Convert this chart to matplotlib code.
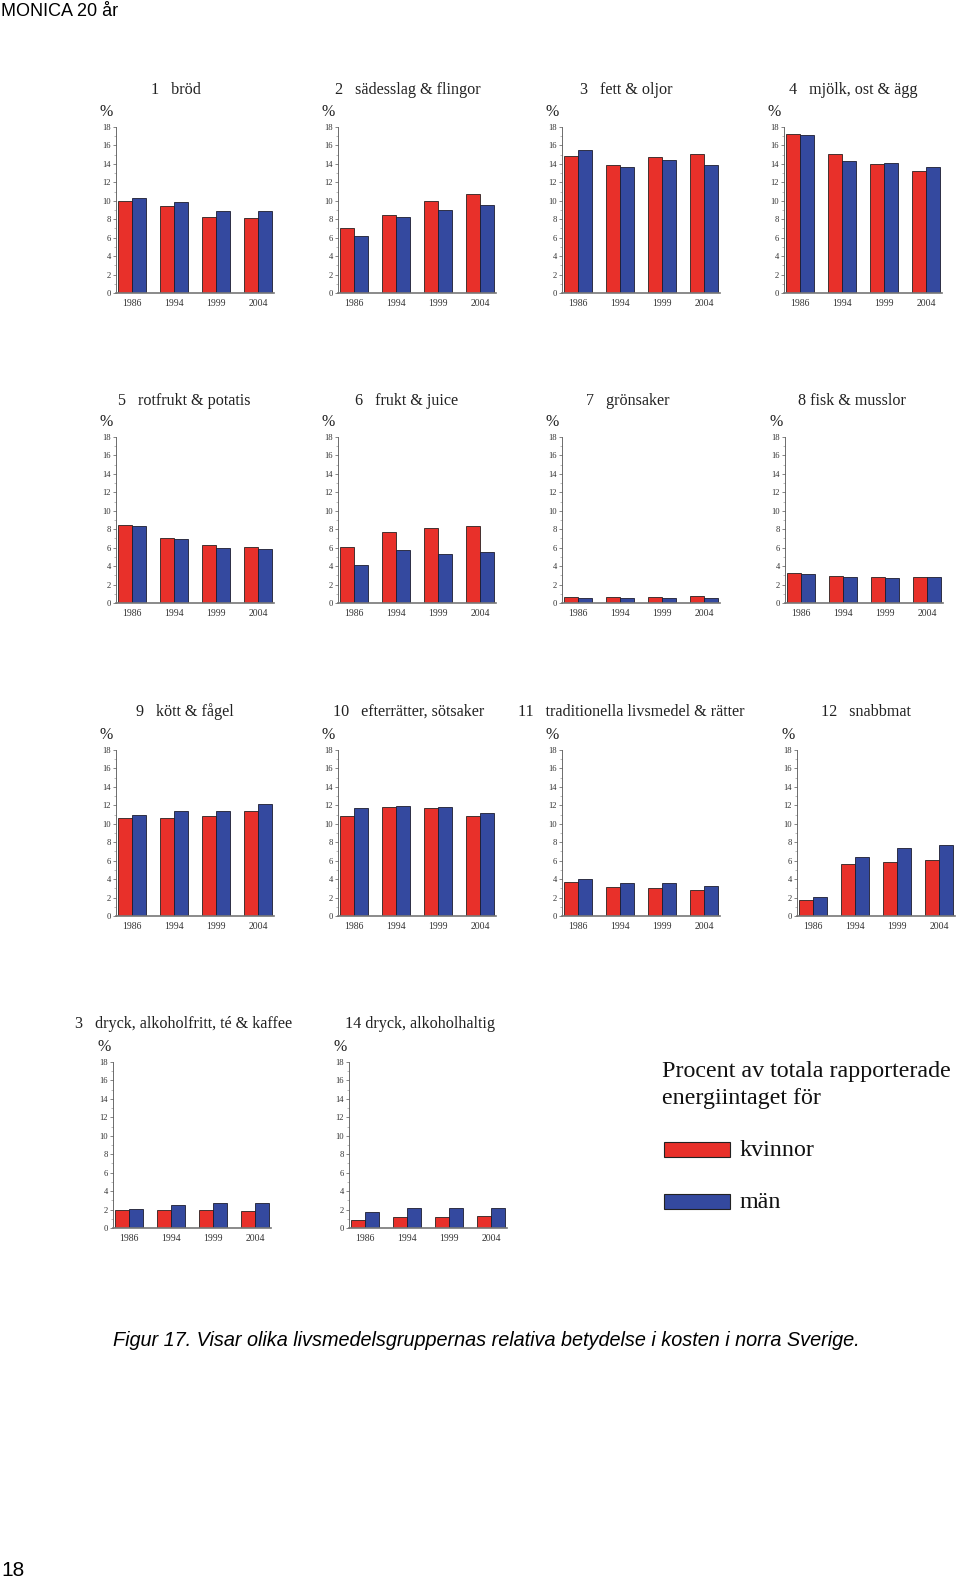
import matplotlib
matplotlib.use("Agg")
import matplotlib.pyplot as plt
from matplotlib.patches import Rectangle
import numpy as np

years = ["1986", "1994", "1999", "2004"]
titles = [
    "1   bröd", "2   sädesslag & flingor", "3   fett & oljor", "4   mjölk, ost & ägg",
    "5   rotfrukt & potatis", "6   frukt & juice", "7   grönsaker", "8 fisk & musslor",
    "9   kött & fågel", "10   efterrätter, sötsaker", "11   traditionella livsmedel & rätter", "12   snabbmat",
    "3   dryck, alkoholfritt, té & kaffee", "14 dryck, alkoholhaltig",
]
kvinnor = [
    [10.0, 9.4, 8.2, 8.1],
    [7.0, 8.5, 10.0, 10.75],
    [14.9, 13.85, 14.8, 15.1],
    [17.2, 15.1, 14.0, 13.2],
    [8.45, 7.1, 6.25, 6.05],
    [6.05, 7.7, 8.1, 8.3],
    [0.65, 0.65, 0.7, 0.75],
    [3.25, 2.9, 2.85, 2.85],
    [10.6, 10.65, 10.8, 11.4],
    [10.8, 11.85, 11.7, 10.8],
    [3.65, 3.1, 3.05, 2.85],
    [1.7, 5.6, 5.85, 6.1],
    [2.0, 1.9, 2.0, 1.85],
    [0.9, 1.2, 1.2, 1.3],
]
man = [
    [10.25, 9.85, 8.9, 8.9],
    [6.15, 8.2, 9.05, 9.55],
    [15.5, 13.65, 14.45, 13.85],
    [17.1, 14.3, 14.1, 13.7],
    [8.35, 6.9, 5.95, 5.85],
    [4.15, 5.75, 5.35, 5.5],
    [0.5, 0.5, 0.5, 0.5],
    [3.1, 2.8, 2.7, 2.8],
    [10.9, 11.4, 11.35, 12.1],
    [11.7, 11.9, 11.8, 11.2],
    [4.05, 3.55, 3.55, 3.2],
    [2.1, 6.45, 7.35, 7.7],
    [2.05, 2.5, 2.7, 2.7],
    [1.7, 2.2, 2.2, 2.2],
]
legend_title = "Procent av totala rapporterade\nenergiintaget för"
series_names = ["kvinnor", "män"]
header = "MONICA 20 år"
caption = "Figur 17. Visar olika livsmedelsgruppernas relativa betydelse i kosten i norra Sverige."
page_no = "18"

RED = "#e8302a"
BLUE = "#34499f"
W, H = 960, 1580
fig = plt.figure(figsize=(W / 100, H / 100), dpi=100)

row_bottom = [293, 603, 916, 1228]
row_title_y = [90, 401, 712, 1024]
col_left = [
    [116, 338, 562, 784],
    [116, 338, 562, 785],
    [116, 338, 562, 797],
    [113, 349],
]
title_x = [
    [151, 335, 580, 789],
    [118, 355, 586, 798],
    [136, 333, 518, 821],
    [75, 345],
]
AX_W = 158
AX_H = 166

serif = ["Liberation Serif", "DejaVu Serif"]
x = np.arange(len(years))
bw = 1 / 3
k = 0
for r in range(4):
    for c in range(len(col_left[r])):
        lx = col_left[r][c]
        by = row_bottom[r]
        ax = fig.add_axes([lx / W, 1 - by / H, AX_W / W, AX_H / H])
        ax.bar(x - bw / 2, kvinnor[k], width=bw, color=RED, edgecolor="#2a2020", linewidth=0.6)
        ax.bar(x + bw / 2, man[k], width=bw, color=BLUE, edgecolor="#1c1c30", linewidth=0.6)
        ax.set_xlim(-bw - 0.04, 3 + bw + 0.05)
        ax.set_ylim(0, 18)
        ax.set_yticks(np.arange(0, 19, 2))
        ax.set_yticks(np.arange(1, 18, 2), minor=True)
        ax.set_xticks(x)
        ax.set_xticklabels(years)
        for s in ["top", "right"]:
            ax.spines[s].set_visible(False)
        ax.spines["left"].set_color("#555555")
        ax.spines["left"].set_linewidth(0.6)
        ax.spines["bottom"].set_color("#777777")
        ax.spines["bottom"].set_linewidth(1.2)
        ax.tick_params(axis="y", which="major", length=2, width=0.5, color="#555555",
                       labelsize=6.2, pad=1.5, labelcolor="#333333")
        ax.tick_params(axis="y", which="minor", length=1.2, width=0.4, color="#888888")
        ax.tick_params(axis="x", length=0, labelsize=7, pad=4, labelcolor="#333333")
        for lab in ax.get_xticklabels() + ax.get_yticklabels():
            lab.set_family(serif)
        ax.set_facecolor("none")
        fig.text((lx - 16) / W, 1 - (by - AX_H - 15) / H, "%", family=serif,
                 fontsize=11.5, ha="left", va="center", color="#222222")
        fig.text(title_x[r][c] / W, 1 - row_title_y[r] / H, titles[k], family=serif,
                 fontsize=11.6, ha="left", va="center", color="#222222")
        k += 1

# legend
fig.text(662 / W, 1 - 1085 / H, legend_title, family=serif, fontsize=17.3,
         ha="left", va="center", linespacing=1.4, color="#111111")
for i, (name, col) in enumerate(zip(series_names, [RED, BLUE])):
    yc = 1149 + i * 52
    fig.patches.append(Rectangle((664 / W, 1 - (yc + 7.5) / H), 66 / W, 15 / H,
                                 transform=fig.transFigure, facecolor=col,
                                 edgecolor="#222222", linewidth=0.8))
    fig.text(740 / W, 1 - (yc + 2) / H, name, family=serif, fontsize=17.3,
             ha="left", va="center", color="#111111")

sans = ["Liberation Sans", "DejaVu Sans"]
fig.text(1 / W, 1 - 12 / H, header, family=sans, fontsize=13, ha="left", va="center")
fig.text(113 / W, 1 - 1340 / H, caption, family=sans, style="italic", fontsize=14.3,
         ha="left", va="center")
fig.text(1 / W, 1 - 1570 / H, page_no, family=sans, fontsize=15, ha="left", va="center")

fig.savefig("out.png", dpi=100, facecolor="white")
